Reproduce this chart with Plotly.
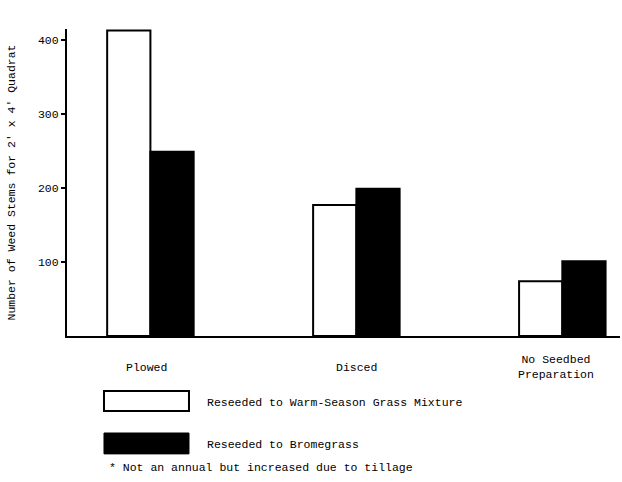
import plotly.graph_objects as go

categories = ["Plowed", "Disced", "No Seedbed<br>Preparation"]
warm_season = [413, 177, 74]
bromegrass = [249, 199, 101]
y_ticks = [100, 200, 300, 400]
series_names = ["Reseeded to Warm-Season Grass Mixture", "Reseeded to Bromegrass"]
footnote = "* Not an annual but increased due to tillage"

FONT = "Liberation Mono, Courier New, monospace"
FS = 11.5
xpos = list(range(len(categories)))
label_x = [-0.02, 1.0, 1.97]

fig = go.Figure()
fig.add_trace(go.Bar(x=xpos, y=warm_season, name=series_names[0],
                     marker=dict(color="white", line=dict(color="black", width=2)),
                     showlegend=False))
fig.add_trace(go.Bar(x=xpos, y=bromegrass, name=series_names[1],
                     marker=dict(color="black", line=dict(color="black", width=2)),
                     showlegend=False))

fig.update_layout(
    width=622, height=482,
    margin=dict(l=67, r=2, t=29, b=146),
    paper_bgcolor="white", plot_bgcolor="white",
    barmode="group", bargap=0.58, bargroupgap=0,
    font=dict(family=FONT, size=FS, color="black"),
    xaxis=dict(range=[-0.405, 2.28], showticklabels=False, ticks="",
               showline=True, linecolor="black", linewidth=2,
               showgrid=False, zeroline=False),
    yaxis=dict(range=[0, 415], tickvals=y_ticks, ticks="outside", ticklen=4,
               tickwidth=2, tickcolor="black",
               showline=True, linecolor="black", linewidth=2,
               showgrid=False, zeroline=False,
               title=dict(text="Number of Weed Stems for 2' x 4' Quadrat",
                          font=dict(family=FONT, size=FS), standoff=20)),
)

for i, c in enumerate(categories):
    fig.add_annotation(x=label_x[i], y=-0.101, xref="x", yref="paper",
                       text=c, showarrow=False, yanchor="middle",
                       font=dict(family=FONT, size=FS))

# Manual legend
fig.add_shape(type="rect", xref="paper", yref="paper",
              x0=0.0669, x1=0.2206, y0=-0.179, y1=-0.244,
              fillcolor="white", line=dict(color="black", width=2))
fig.add_shape(type="rect", xref="paper", yref="paper",
              x0=0.0669, x1=0.2206, y0=-0.316, y1=-0.384,
              fillcolor="black", line=dict(color="black", width=1))
fig.add_annotation(x=0.2495, y=-0.215, xref="paper", yref="paper",
                   text=series_names[0], showarrow=False,
                   xanchor="left", yanchor="middle", font=dict(family=FONT, size=FS))
fig.add_annotation(x=0.2495, y=-0.352, xref="paper", yref="paper",
                   text=series_names[1], showarrow=False,
                   xanchor="left", yanchor="middle", font=dict(family=FONT, size=FS))
fig.add_annotation(x=0.0723, y=-0.427, xref="paper", yref="paper",
                   text=footnote, showarrow=False,
                   xanchor="left", yanchor="middle", font=dict(family=FONT, size=FS))

fig.write_html("out.html")
